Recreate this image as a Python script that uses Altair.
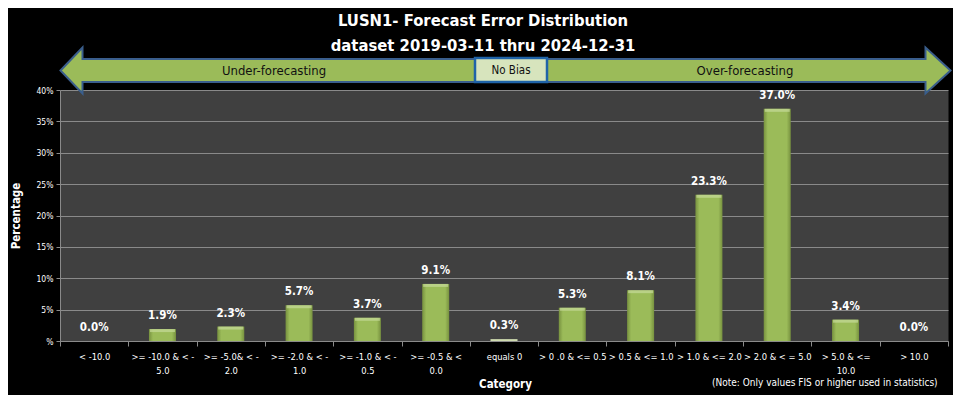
import altair as alt
import pandas as pd

# ---- data ----
categories = [
    "< -10.0",
    ">= -10.0 & < -\n5.0",
    ">= -5.0& < -\n2.0",
    ">= -2.0 & < -\n1.0",
    ">= -1.0 & < -\n0.5",
    ">= -0.5 & <\n0.0",
    "equals 0",
    "> 0 .0 & <= 0.5",
    "> 0.5 & <= 1.0",
    "> 1.0 & <= 2.0",
    "> 2.0 & < = 5.0",
    "> 5.0 & <=\n10.0",
    "> 10.0",
]
values = [0.0, 1.9, 2.3, 5.7, 3.7, 9.1, 0.3, 5.3, 8.1, 23.3, 37.0, 3.4, 0.0]
y_ticks = [0, 5, 10, 15, 20, 25, 30, 35, 40]
title_lines = ["LUSN1- Forecast Error Distribution", "dataset 2019-03-11  thru 2024-12-31"]
arrow_left_text = "Under-forecasting"
arrow_right_text = "Over-forecasting"
center_text = "No Bias"
note_text = "(Note: Only values FIS or higher used in statistics)"

df = pd.DataFrame({"category": categories, "value": values})
one = pd.DataFrame({"a": [0]})

FONT = "DejaVu Sans Condensed, sans-serif"
GRID = "#8a8a8a"

x_enc = alt.X(
    "category:N",
    sort=categories,
    scale=alt.Scale(paddingInner=0, paddingOuter=0),
    axis=alt.Axis(
        title="Category", titleX=445, titleY=43, titleBaseline="middle",
        titleColor="white", titleFontSize=11.5, titleFontWeight="bold", titleFont=FONT,
        labelExpr="split(datum.label, '\\n')", labelAngle=0, labelColor="white",
        labelFontSize=9.3, labelFont=FONT, labelLineHeight=14, labelPadding=6,
        labelBaseline="top", tickBand="extent", tickColor=GRID, tickSize=5,
        domainColor=GRID, grid=False,
    ),
)
y_enc = alt.Y(
    "value:Q",
    scale=alt.Scale(domain=[0, 40], nice=False),
    axis=alt.Axis(
        values=y_ticks, labelExpr="datum.value == 0 ? '%' : datum.value + '%'",
        gridColor=GRID, gridWidth=1, domainColor=GRID, tickColor=GRID, tickSize=4,
        labelColor="white", labelFontSize=8.5, labelFont=FONT, labelPadding=3,
        title="Percentage", titleX=-44, titleY=125.5, titleAngle=270,
        titleAlign="center", titleBaseline="middle", titleColor="white",
        titleFontSize=11.5, titleFontWeight="bold", titleFont=FONT,
    ),
)

grad = alt.LinearGradient(
    gradient="linear", x1=0, x2=1, y1=0, y2=0,
    stops=[
        alt.GradientStop(offset=0, color="#77913F"),
        alt.GradientStop(offset=0.15, color="#9BBB59"),
        alt.GradientStop(offset=0.85, color="#9BBB59"),
        alt.GradientStop(offset=1, color="#77913F"),
    ],
)

base = alt.Chart(df)
bars = base.transform_filter("datum.value >= 1").mark_bar(size=27, fill=grad).encode(x=x_enc, y=y_enc)
pale = base.transform_filter("datum.value > 0 && datum.value < 1").mark_bar(
    size=27, fill="#CFDBAF"
).encode(x=x_enc, y=y_enc)
tops = base.transform_filter("datum.value >= 1").mark_tick(
    orient="horizontal", size=25, thickness=3, color="#C6DA9A", yOffset=1.5
).encode(x=x_enc, y=y_enc)
labels = base.transform_calculate(lbl="format(datum.value, '.1f') + '%'").mark_text(
    dy=-13, color="white", fontSize=11.5, fontWeight="bold", font=FONT
).encode(x=x_enc, y=y_enc, text="lbl:N")

arrow_path = ("M -445 0 L -423 -23 L -423 -11.5 L 420 -11.5 L 420 -23 L 445 0 "
              "L 420 23 L 420 11.5 L -423 11.5 L -423 23 Z")
deco = alt.Chart(one)
arrow = deco.mark_point(
    shape=arrow_path, size=4, filled=True, fill="#9BBB59", stroke="#3A5E8C",
    strokeWidth=2, opacity=1, fillOpacity=1, strokeJoin="miter",
).encode(x=alt.value(445.5), y=alt.value(-19.5))
box = deco.mark_rect(fill="#D7E4BD", stroke="#1F63A8", strokeWidth=2.5).encode(
    x=alt.value(415), x2=alt.value(487), y=alt.value(-32), y2=alt.value(-8)
)
t_left = deco.mark_text(text=arrow_left_text, fontSize=13, font=FONT, color="#111111").encode(
    x=alt.value(214), y=alt.value(-19)
)
t_right = deco.mark_text(text=arrow_right_text, fontSize=13, font=FONT, color="#111111").encode(
    x=alt.value(685), y=alt.value(-19)
)
t_mid = deco.mark_text(text=center_text, fontSize=11.5, font=FONT, color="#111111").encode(
    x=alt.value(451), y=alt.value(-19)
)
title1 = deco.mark_text(text=title_lines[0], fontSize=16.5, fontWeight="bold", font=FONT, color="white").encode(
    x=alt.value(423), y=alt.value(-69)
)
title2 = deco.mark_text(text=title_lines[1], fontSize=16.5, fontWeight="bold", font=FONT, color="white").encode(
    x=alt.value(423), y=alt.value(-44)
)
note = deco.mark_text(text=note_text, fontSize=10, font=FONT, color="white", align="left").encode(
    x=alt.value(652), y=alt.value(293)
)

chart = alt.layer(
    bars, pale, tops, labels, arrow, box, t_left, t_right, t_mid, title1, title2, note
).properties(
    width=888, height=251,
    autosize=alt.AutoSizeParams(type="none"),
    padding={"left": 52, "top": 82, "right": 5, "bottom": 54},
    background="black",
).configure_view(fill="#404040", stroke="transparent")

chart.save("out.html", embed_options={"renderer": "svg", "actions": False})
